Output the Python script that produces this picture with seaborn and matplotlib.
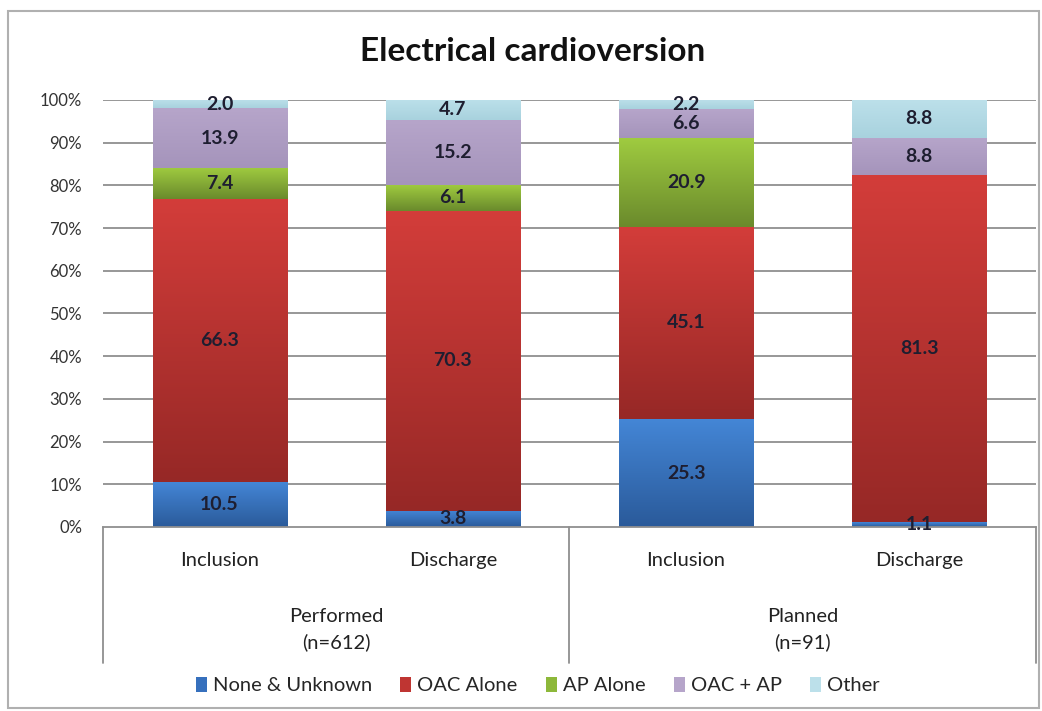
import numpy as np
import pandas as pd
import matplotlib.pyplot as plt
import matplotlib.transforms as mtransforms
from matplotlib.colors import LinearSegmentedColormap
from matplotlib.patches import Patch, Rectangle
from matplotlib.lines import Line2D
import seaborn as sns

# ---------------- data ----------------
bar_keys = ["Performed-Inclusion", "Performed-Discharge", "Planned-Inclusion", "Planned-Discharge"]
timepoints = ["Inclusion", "Discharge", "Inclusion", "Discharge"]
groups = ["Performed\n(n=612)", "Planned\n(n=91)"]
series = ["None & Unknown", "OAC Alone", "AP Alone", "OAC + AP", "Other"]

none_unknown = [10.5, 3.8, 25.3, 1.1]
oac_alone = [66.3, 70.3, 45.1, 81.3]
ap_alone = [7.4, 6.1, 20.9, 0.0]
oac_ap = [13.9, 15.2, 6.6, 8.8]
other = [2.0, 4.7, 2.2, 8.8]

# (bottom colour, top colour) of each gradient
grad_colors = [
    ("#2a5a9a", "#4486d6"),
    ("#962826", "#d33d3a"),
    ("#6a8a2c", "#a0cc40"),
    ("#a594bb", "#b6a5ca"),
    ("#a8d2de", "#bce0ea"),
]

sns.set_theme(style="white")
plt.rcParams["font.family"] = ["Lato", "DejaVu Sans"]

fig = plt.figure(figsize=(10.42, 7.11), dpi=100)
ax = fig.add_axes([0.0988, 0.2588, 0.8954, 0.6006])

# outer frame like the excel chart area
fig.patches.append(Rectangle((0.008, 0.004), 0.989, 0.981, transform=fig.transFigure,
                             fill=False, edgecolor="#b0b0b0", linewidth=1.5))

values = [none_unknown, oac_alone, ap_alone, oac_ap, other]
totals = np.sum(values, axis=0)
bottoms = np.zeros(len(bar_keys))

for name, vals, (c_dark, c_light) in zip(series, values, grad_colors):
    vals = np.array(vals)
    heights = vals / totals * 100
    sns.barplot(x=bar_keys, y=heights, order=bar_keys, bottom=bottoms, color=c_light,
                width=0.575, errorbar=None, ax=ax, zorder=2, linewidth=0, saturation=1)
    cmap = LinearSegmentedColormap.from_list(name, [c_dark, c_light])
    grad = np.linspace(0, 1, 256).reshape(-1, 1)
    for patch, v, h, b in zip(ax.containers[-1], vals, heights, bottoms):
        if h <= 0:
            continue
        x0 = patch.get_x()
        w = patch.get_width()
        im = ax.imshow(grad, cmap=cmap, origin="lower", aspect="auto",
                       extent=(x0, x0 + w, b, b + h), zorder=2.5)
        im.set_clip_path(patch)
        ax.text(x0 + w / 2, b + h / 2, f"{v:.1f}", ha="center", va="center",
                fontsize=14, fontweight="bold", color="#1e1e30", zorder=4)
    bottoms = bottoms + heights

ax.set_xlim(-0.5, 3.5)
ax.set_ylim(0, 100)
ax.set_xlabel("")
ax.set_ylabel("")

ax.set_yticks(np.arange(0, 101, 10))
ax.set_yticklabels([f"{t}%" for t in range(0, 101, 10)], fontsize=12, color="#333333")
ax.set_xticks(range(4))
ax.set_xticklabels(timepoints, fontsize=14.5, color="#222222")
ax.tick_params(axis="y", length=0, pad=15)
ax.tick_params(axis="x", length=0, pad=18)

for t in range(10, 101, 10):
    ax.axhline(t, color="#8f8f8f", linewidth=1.3, zorder=1)

for s in ["top", "right", "left"]:
    ax.spines[s].set_visible(False)
ax.spines["bottom"].set_color("#8f8f8f")
ax.spines["bottom"].set_linewidth(1.3)

# group labels and separators below the axis
trans = mtransforms.blended_transform_factory(ax.transData, ax.transAxes)
for xc, g in zip([0.5, 2.5], groups):
    ax.text(xc, -0.24, g, transform=trans, ha="center", va="center",
            fontsize=14.5, color="#222222", linespacing=1.6)
for xs in [-0.5, 1.5, 3.5]:
    ax.add_line(Line2D([xs, xs], [0, -0.318], transform=trans, color="#8f8f8f",
                       linewidth=1.3, clip_on=False))

fig.text(0.511, 0.927, "Electrical cardioversion", ha="center", va="center",
         fontsize=24, fontweight="bold", color="#111111")

handles = [Patch(facecolor=c[1], edgecolor="none") for c in grad_colors]
handles[0].set_facecolor("#3670bd")
handles[1].set_facecolor("#bf3532")
handles[2].set_facecolor("#8db83a")
fig.legend(handles, series, loc="center", bbox_to_anchor=(0.516, 0.036), ncol=5,
           frameon=False, fontsize=14.5, handlelength=0.55, handleheight=0.8,
           handletextpad=0.3, columnspacing=1.4)

fig.savefig("out.png", dpi=100)
